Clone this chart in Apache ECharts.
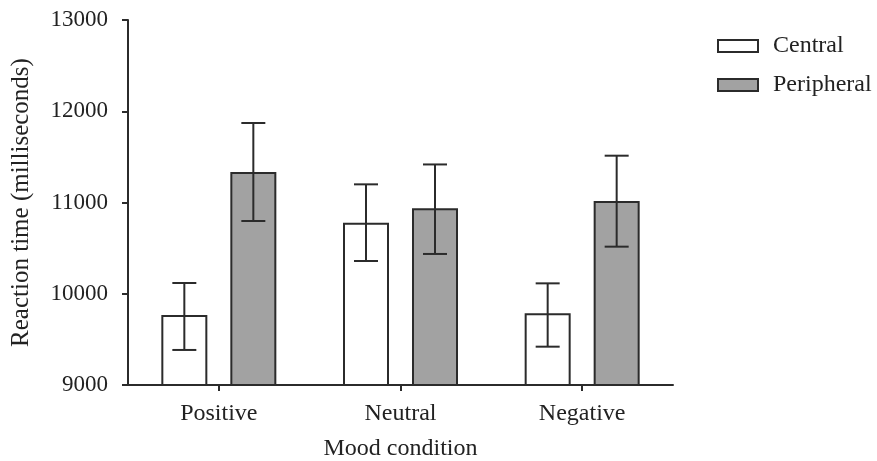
<!DOCTYPE html>
<html>
<head>
<meta charset="utf-8">
<script src="https://cdn.jsdelivr.net/npm/echarts@6/dist/echarts.min.js"></script>
<style>
html,body{margin:0;padding:0;background:#fff;}
#chart{width:877px;height:461px;}
</style>
</head>
<body>
<div id="chart"></div>
<script>
var categories = ['Positive', 'Neutral', 'Negative'];
var centralMean = [9767, 10779, 9786];
var centralLow = [9384, 10359, 9420];
var centralHigh = [10118, 11199, 10114];
var peripheralMean = [11334, 10936, 11016];
var peripheralLow = [10797, 10436, 10516];
var peripheralHigh = [11871, 11417, 11513];
var yTicks = [9000, 10000, 11000, 12000, 13000];

var FONT = 'Liberation Serif';
var TXT = '#222';
var LINE = '#2b2b2b';
var BAR_W = 46;
var BAR_GAP = 23;
var OFFSET = (BAR_W + BAR_GAP) / 2;
var CAP = 12;

function errData(low, high) {
  return categories.map(function (c, i) { return [i, low[i], high[i]]; });
}

function makeErrRender(sign) {
  return function (params, api) {
    var idx = api.value(0);
    var lo = api.coord([idx, api.value(1)]);
    var hi = api.coord([idx, api.value(2)]);
    var x = lo[0] + sign * OFFSET;
    var style = { stroke: LINE, lineWidth: 2, fill: null };
    return {
      type: 'group',
      children: [
        { type: 'line', shape: { x1: x, y1: hi[1], x2: x, y2: lo[1] }, style: style },
        { type: 'line', shape: { x1: x - CAP, y1: hi[1], x2: x + CAP, y2: hi[1] }, style: style },
        { type: 'line', shape: { x1: x - CAP, y1: lo[1], x2: x + CAP, y2: lo[1] }, style: style }
      ]
    };
  };
}

var chart = echarts.init(document.getElementById('chart'));
chart.setOption({
  animation: false,
  backgroundColor: '#fff',
  textStyle: { fontFamily: FONT, color: TXT },
  grid: { left: 128, right: 204, top: 20, bottom: 76, containLabel: false, outerBoundsMode: 'none' },
  legend: {
    orient: 'vertical',
    left: 712,
    top: 29,
    itemWidth: 40,
    itemHeight: 12,
    itemGap: 15,
    icon: 'rect',
    data: ['Central', 'Peripheral'],
    textStyle: { fontFamily: FONT, fontSize: 24, color: TXT, padding: [0, 0, 0, 10] }
  },
  xAxis: {
    type: 'category',
    data: categories,
    name: 'Mood condition',
    nameLocation: 'middle',
    nameGap: 52,
    nameTextStyle: { fontFamily: FONT, fontSize: 24, color: TXT },
    axisLine: { show: true, lineStyle: { color: LINE, width: 2 } },
    axisTick: { show: true, alignWithLabel: true, length: 6, lineStyle: { color: LINE, width: 2 } },
    axisLabel: { fontFamily: FONT, fontSize: 24, color: TXT, margin: 17 },
    splitLine: { show: false }
  },
  yAxis: {
    type: 'value',
    min: yTicks[0],
    max: yTicks[yTicks.length - 1],
    interval: 1000,
    name: 'Reaction time (milliseconds)',
    nameLocation: 'middle',
    nameGap: 94,
    nameTextStyle: { fontFamily: FONT, fontSize: 25, color: TXT },
    axisLine: { show: true, lineStyle: { color: LINE, width: 2 } },
    axisTick: { show: true, length: 6, lineStyle: { color: LINE, width: 2 } },
    axisLabel: { fontFamily: FONT, fontSize: 23, color: TXT, margin: 20, formatter: function (v) { return String(v); } },
    splitLine: { show: false }
  },
  series: [
    {
      name: 'Central',
      type: 'bar',
      data: centralMean,
      barWidth: BAR_W,
      barGap: (BAR_GAP / BAR_W * 100) + '%',
      itemStyle: { color: '#ffffff', borderColor: LINE, borderWidth: 2 }
    },
    {
      name: 'Peripheral',
      type: 'bar',
      data: peripheralMean,
      barWidth: BAR_W,
      barGap: (BAR_GAP / BAR_W * 100) + '%',
      itemStyle: { color: '#a2a2a2', borderColor: LINE, borderWidth: 2 }
    },
    {
      type: 'custom',
      renderItem: makeErrRender(-1),
      data: errData(centralLow, centralHigh),
      encode: { x: 0, y: [1, 2] },
      z: 10,
      silent: true
    },
    {
      type: 'custom',
      renderItem: makeErrRender(1),
      data: errData(peripheralLow, peripheralHigh),
      encode: { x: 0, y: [1, 2] },
      z: 10,
      silent: true
    }
  ]
});
</script>
</body>
</html>
